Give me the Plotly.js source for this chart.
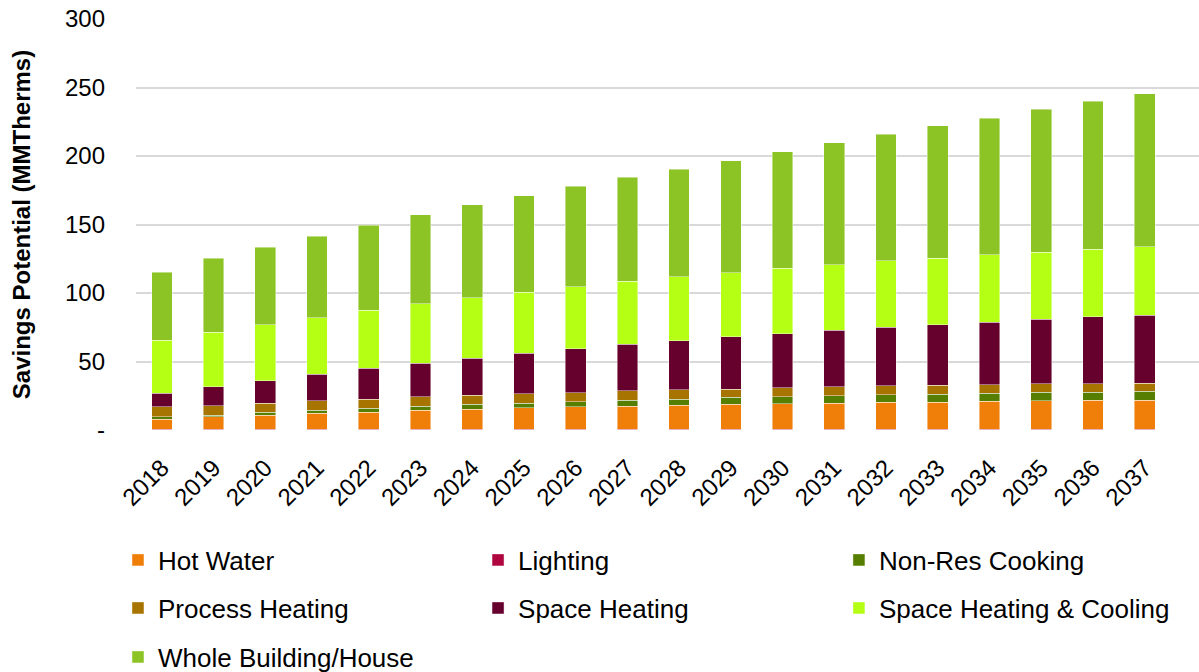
<!DOCTYPE html>
<html>
<head>
<meta charset="utf-8">
<script src="https://cdn.plot.ly/plotly-3.0.1.min.js"></script>
<style>html,body{margin:0;padding:0;background:#fff;}#chart{width:1199px;height:672px;}</style>
</head>
<body>
<div id="chart"></div>
<script>
const years = ['2018','2019','2020','2021','2022','2023','2024','2025','2026','2027','2028','2029','2030','2031','2032','2033','2034','2035','2036','2037'];

const lighting        = [0.7,0.7,0.7,0.7,0.7,0.7,0.7,0.7,0.7,0.7,0.7,0.7,0.7,0.7,0.7,0.7,0.7,0.7,0.7,0.7];
const hotWater        = [7.3,8.8,10.2,11.5,12.4,13.7,14.6,15.4,16.1,16.6,17.3,18.1,18.5,19.0,19.5,19.7,20.2,20.7,20.9,21.2];
const nonResCooking   = [1.5,1.4,2.0,2.4,2.7,2.9,3.5,3.6,3.9,4.4,4.4,5.1,5.1,5.3,5.6,5.7,5.9,6.1,6.1,6.3];
const processHeating  = [7.3,6.8,6.6,6.6,6.8,6.8,6.5,6.6,6.5,6.8,7.0,6.0,6.6,6.6,6.6,6.5,6.3,6.1,5.9,5.9];
const spaceHeating    = [10.0,13.7,16.5,19.4,22.4,24.8,27.0,29.7,32.1,34.1,35.8,38.0,39.4,41.2,42.6,44.3,45.7,47.2,48.9,49.8];
const spaceHeatCool   = [38.7,39.9,40.9,41.2,42.4,43.1,44.1,44.5,45.1,45.9,46.5,46.9,47.7,47.9,48.4,48.6,49.2,49.1,49.4,49.7];
const wholeBuilding   = [49.5,54.2,56.6,59.7,62.1,65.0,68.1,70.5,73.6,76.0,78.8,81.7,85.0,88.8,92.6,96.5,99.5,104.1,108.1,111.9];

const yTickVals = [0,50,100,150,200,250,300];
const yTickText = ['-','50','100','150','200','250','300'];

// legend slots (container coordinates)
const legendCols = [0.0984, 0.3987, 0.6997];
const legendRows = [0.1667, 0.0952, 0.0223];

const series = [
  {name:'Lighting', y:lighting, color:'#B0063F', legend:'legend2', col:1, row:0},
  {name:'Hot Water', y:hotWater, color:'#F07F09', legend:'legend', col:0, row:0},
  {name:'Non-Res Cooking', y:nonResCooking, color:'#567E00', legend:'legend3', col:2, row:0},
  {name:'Process Heating', y:processHeating, color:'#A87400', legend:'legend4', col:0, row:1},
  {name:'Space Heating', y:spaceHeating, color:'#66002C', legend:'legend5', col:1, row:1},
  {name:'Space Heating & Cooling', y:spaceHeatCool, color:'#B4FF14', legend:'legend6', col:2, row:1},
  {name:'Whole Building/House', y:wholeBuilding, color:'#8DC425', legend:'legend7', col:0, row:2}
];

const traces = series.map(s => ({
  type:'bar', x:years, y:s.y, name:s.name, legend:s.legend,
  marker:{color:s.color, line:{color:'rgba(255,255,255,0.55)', width:0.8}},
  hoverinfo:'x+y+name'
}));

const fontFam = '"Liberation Sans", Arial, sans-serif';

const layout = {
  width:1199, height:672,
  margin:{l:136, r:0, t:19, b:242, pad:0},
  paper_bgcolor:'#fff', plot_bgcolor:'#fff',
  barmode:'stack', bargap:0.6,
  font:{family:fontFam, size:24, color:'#000'},
  showlegend:true,
  xaxis:{type:'category', range:[-0.5, 20.05], showgrid:false, zeroline:false, showline:false, automargin:false,
         ticks:'', tickangle:-45, tickfont:{size:24, color:'#000'}, ticklabelstandoff:18},
  yaxis:{range:[0,300], tickvals:yTickVals, ticktext:yTickText, showgrid:true, automargin:false,
         gridcolor:'#d9d9d9', gridwidth:1.5, zeroline:false, showline:false, ticks:'',
         tickfont:{size:24, color:'#000'}, ticklabelstandoff:30,
         title:{text:'<b>Savings Potential (MMTherms)</b>', font:{size:24, color:'#000'}, standoff:27}}
};

series.forEach(s => {
  layout[s.legend] = {
    orientation:'h', xanchor:'left', yanchor:'middle',
    xref:'container', yref:'container',
    x:legendCols[s.col], y:legendRows[s.row],
    font:{family:fontFam, size:26, color:'#000'},
    bgcolor:'rgba(0,0,0,0)'
  };
});

Plotly.newPlot('chart', traces, layout, {displayModeBar:false});
</script>
</body>
</html>
